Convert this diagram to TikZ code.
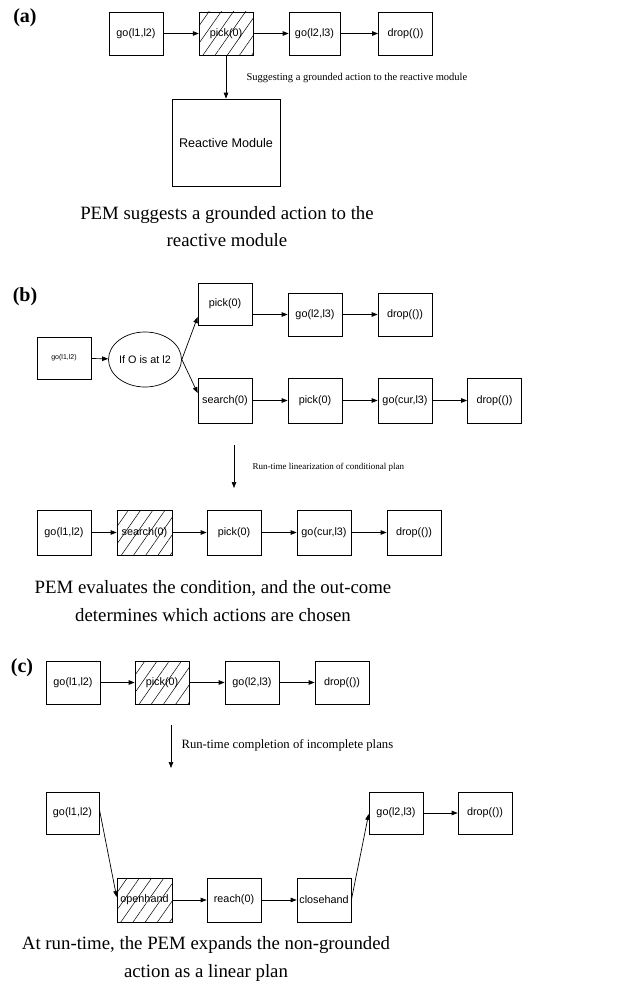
\documentclass[tikz,border=0pt]{standalone}
\usepackage{fontspec}
\setmainfont{Liberation Serif}
\newfontfamily\boxfont{Liberation Sans}
\usetikzlibrary{arrows.meta,shapes.geometric,patterns.meta,calc}
\begin{document}
\begin{tikzpicture}[x=1pt,y=-1pt,
  act/.style={draw,line width=0.7pt,minimum width=54pt,minimum height=43pt,inner sep=0pt,
    font=\boxfont\fontsize{10.8}{12}\selectfont},
  hatched/.style={act,pattern={Lines[angle=55,distance=10pt,line width=0.5pt]}},
  flow/.style={line width=0.7pt,-{Triangle[length=6pt,width=4.5pt]}},
  panel/.style={font=\bfseries\fontsize{20}{22}\selectfont},
  note/.style={anchor=west,font=\fontsize{10.5}{12}\selectfont},
  caption/.style={align=center,font=\fontsize{18.8}{27.5}\selectfont}]
\useasboundingbox (0,0) rectangle (635,990);

% ---------------- (a) ----------------
\node[panel] (la) at (25,18) {(a)};
\node[act] (a1) at (136,33.5) {go(l1,l2)};
\node[hatched] (a2) at (226,33.5) {pick(0)};
\node[act,minimum width=51pt] (a3) at (314.5,33.5) {go(l2,l3)};
\node[act] (a4) at (405.5,33.5) {drop(())};
\node[act,minimum width=108pt,minimum height=87pt,font=\boxfont\fontsize{12.6}{14}\selectfont] (rm) at (226,142.5) {Reactive Module};
\draw[flow] (a1) -- (a2);
\draw[flow] (a2) -- (a3);
\draw[flow] (a3) -- (a4);
\draw[flow] (a2) -- (rm);
\node[note] (na) at (243,78) {Suggesting a grounded action to the reactive module};
\node[caption] (ca) at (227,226.5) {PEM suggests a grounded action to the\\reactive module};

% ---------------- (b) ----------------
\node[panel] (lb) at (25,297) {(b)};
\node[act,minimum height=42pt,font=\boxfont\fontsize{7}{8}\selectfont] (b0) at (64,358) {go(l1,l2)};
\node[draw,line width=0.7pt,ellipse,minimum width=63pt,minimum height=55pt,inner sep=0pt,
  font=\boxfont\fontsize{10.8}{12}\selectfont] (cond) at (145,359.5) {If O is at l2};
\node[act,minimum height=42pt] (bt1) at (225,304) {pick(0)};
\node[act] (bt2) at (315,314.5) {go(l2,l3)};
\node[act] (bt3) at (405,314.5) {drop(())};
\node[act,minimum height=45pt] (bb1) at (225,400.5) {search(0)};
\node[act,minimum height=45pt] (bb2) at (315,400.5) {pick(0)};
\node[act,minimum height=45pt] (bb3) at (405,400.5) {go(cur,l3)};
\node[act,minimum height=45pt] (bb4) at (494.5,400.5) {drop(())};
\draw[flow] (b0) -- (cond);
\draw[flow] (cond.east) -- ([yshift=-13pt]bt1.west);
\draw[flow] (cond.east) -- ([yshift=7.5pt]bb1.west);
\draw[flow] (bt1.east |- bt2.west) -- (bt2);
\draw[flow] (bt2) -- (bt3);
\draw[flow] (bb1) -- (bb2);
\draw[flow] (bb2) -- (bb3);
\draw[flow] (bb3) -- (bb4);

\coordinate (sb1) at (234,445);
\coordinate (sb2) at (234,488);
\draw[flow] (sb1) -- (sb2);
\node[note,font=\fontsize{9}{11}\selectfont] (nb) at (249,467) {Run-time linearization of conditional plan};

\node[act,minimum height=45pt] (bl1) at (64,532.5) {go(l1,l2)};
\node[hatched,minimum width=55pt,minimum height=45pt] (bl2) at (144.5,532.5) {search(0)};
\node[act,minimum height=45pt] (bl3) at (234,532.5) {pick(0)};
\node[act,minimum height=45pt] (bl4) at (324,532.5) {go(cur,l3)};
\node[act,minimum height=45pt] (bl5) at (414,532.5) {drop(())};
\draw[flow] (bl1) -- (bl2);
\draw[flow] (bl2) -- (bl3);
\draw[flow] (bl3) -- (bl4);
\draw[flow] (bl4) -- (bl5);
\node[caption] (cb) at (213,601) {PEM evaluates the condition, and the out-come\\determines which actions are chosen};

% ---------------- (c) ----------------
\node[panel] (lc) at (22,668) {(c)};
\node[act] (c1) at (73,682.5) {go(l1,l2)};
\node[hatched] (c2) at (162,682.5) {pick(0)};
\node[act] (c3) at (252,682.5) {go(l2,l3)};
\node[act] (c4) at (342,682.5) {drop(())};
\draw[flow] (c1) -- (c2);
\draw[flow] (c2) -- (c3);
\draw[flow] (c3) -- (c4);

\coordinate (sc1) at (171,725);
\coordinate (sc2) at (171,768);
\draw[flow] (sc1) -- (sc2);
\node[note,font=\fontsize{12.7}{14}\selectfont] (nc) at (178,745) {Run-time completion of incomplete plans};

\node[act,minimum width=53pt,minimum height=42pt] (d1) at (72.5,813) {go(l1,l2)};
\node[hatched,minimum width=55pt,minimum height=44pt] (d2) at (144.5,900) {openhand};
\node[act,minimum height=44pt] (d3) at (234,900) {reach(0)};
\node[act,minimum height=44pt] (d4) at (324,900) {closehand};
\node[act,minimum height=42pt] (d5) at (396,813) {go(l2,l3)};
\node[act,minimum height=42pt] (d6) at (485,813) {drop(())};
\draw[flow] ([yshift=4pt]d1.east) -- ([yshift=3pt]d2.west);
\draw[flow] (d2) -- (d3);
\draw[flow] (d3) -- (d4);
\draw[flow] (d4.east) -- ([yshift=-1pt]d5.west);
\draw[flow] (d5) -- (d6);
\node[caption] (cc) at (206,959) {At run-time, the PEM expands the non-grounded\\action as a linear plan};
\end{tikzpicture}
\end{document}
